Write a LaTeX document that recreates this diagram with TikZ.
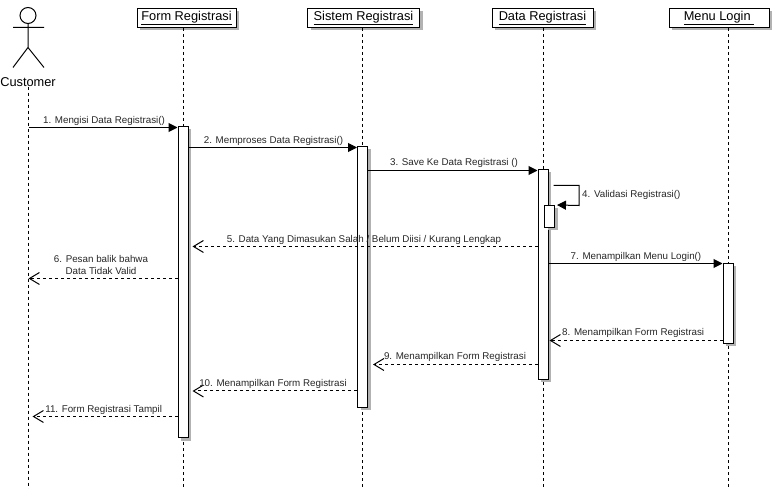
\documentclass[tikz,border=0pt]{standalone}
\usepackage{fontspec}
\setmainfont{Liberation Sans}
\usetikzlibrary{arrows.meta,shadows}
\tikzset{
  head/.style={draw, fill=white, line width=1pt, inner sep=0pt, font=\fontsize{12.8}{12.8}\selectfont,
    drop shadow={shadow xshift=3pt, shadow yshift=-3pt, fill=black!30, opacity=1}},
  bar/.style={draw, fill=white, line width=1pt, inner sep=0pt, minimum width=10pt,
    drop shadow={shadow xshift=3pt, shadow yshift=-3pt, fill=black!30, opacity=1}},
  life/.style={line width=1pt, dash pattern=on 3pt off 3pt},
  call/.style={line width=1pt, -{Triangle[length=9pt,width=9pt]}},
  back/.style={line width=1pt, dash pattern=on 3pt off 3pt, -{Straight Barb[length=10pt,width=12pt,line width=1pt]}},
  lbl/.style={inner sep=0pt, text=black!85, font=\fontsize{9.8}{12}\selectfont, align=center},
}
\begin{document}
\begin{tikzpicture}[x=1pt,y=-1pt]
  \useasboundingbox (0,-0.5) rectangle (772,488.5);
  % header boxes and bottom ends of the lifelines
  \foreach \name/\xc/\w/\xl/\t in {
        Form/186.5/99/183/Form Registrasi,
        Sistem/363.5/112/362.5/Sistem Registrasi,
        Data/542.5/101/543/Data Registrasi,
        Menu/719/100/728/Menu Login
  } {
       \node[head, minimum width=\w pt, minimum height=19pt] (h\name) at (\xc,17.5) {\underline{\t}};
       \coordinate (l\name) at (\xl,489);
       \draw[life] (l\name |- h\name.south) -- (l\name);
  }
  % actor
  \node[draw, circle, line width=1pt, minimum size=16pt, inner sep=0pt] (cHead) at (28,15) {};
  \draw[line width=1pt] (cHead.south) -- (28,47) -- (13,67) (28,47) -- (44,67) (13,27) -- (44,27);
  \node[inner sep=0pt, font=\fontsize{12.8}{12.8}\selectfont] (cName) at (28,81.5) {Customer};
  \coordinate (lCustomer) at (28.5,489);
  \draw[life] (lCustomer |- cName.south) -- (lCustomer);
  % activation bars
  \foreach \name/\x/\ya/\yb in {
        bForm/183/126/437,
        bSistem/362.5/146/407,
        bData/543/169/379,
        bSelf/549.5/205/227,
        bMenu/728/263/343
  } {
       \node[bar, minimum height={(\yb-\ya)*1pt}] (\name) at (\x,{(\ya+\yb)/2}) {};
  }
  % messages
  \draw[call] (lCustomer |- 0,127) -- (bForm.west |- 0,127);
  \draw[call] (bForm.east |- 0,147) -- (bSistem.west |- 0,147);
  \draw[call] (bSistem.east |- 0,170) -- (bData.west |- 0,170);
  \draw[call] (bData.east |- 0,263) -- (bMenu.west |- 0,263);
  \draw[call] ([xshift=5pt]bData.east |- 0,185) -- (579,185) -- (579,205) -- ([xshift=2pt]bSelf.north east);
  \draw[back] (bData.west |- 0,246) -- ([xshift=4pt]bForm.east |- 0,246);
  \draw[back] (bForm.west |- 0,278) -- (lCustomer |- 0,278);
  \draw[back] (bMenu.west |- 0,340) -- ([xshift=1pt]bData.east |- 0,340);
  \draw[back] (bData.west |- 0,364) -- ([xshift=5pt]bSistem.east |- 0,364);
  \draw[back] (bSistem.west |- 0,390.5) -- ([xshift=4pt]bForm.east |- 0,390.5);
  \draw[back] (bForm.west |- 0,416) -- ([xshift=4pt]lCustomer |- 0,416);
  % message labels
  \foreach \n/\x/\y/\t in {
        m1/104/120/1. Mengisi Data Registrasi(),
        m2/273.5/140/2. Memproses Data Registrasi(),
        m3/454/162/3. Save Ke Data Registrasi (),
        m5/364/239/{5. Data Yang Dimasukan Salah {/} Belum Diisi {/} Kurang Lengkap},
        m6/101/264/{6. Pesan balik bahwa\\Data Tidak Valid},
        m7/636/256/7. Menampilkan Menu Login(),
        m9/455/356/9. Menampilkan Form Registrasi,
        m10/273/383/10. Menampilkan Form Registrasi,
        m11/105/409/11. Form Registrasi Tampil
  } {
       \node[lbl] (\n) at (\x,\y) {\t};
  }
  \node[lbl, anchor=west] (m4) at (582,194) {4. Validasi Registrasi()};
  \node[lbl, anchor=west] (m8) at (562,332) {8. Menampilkan Form Registrasi};
\end{tikzpicture}
\end{document}
